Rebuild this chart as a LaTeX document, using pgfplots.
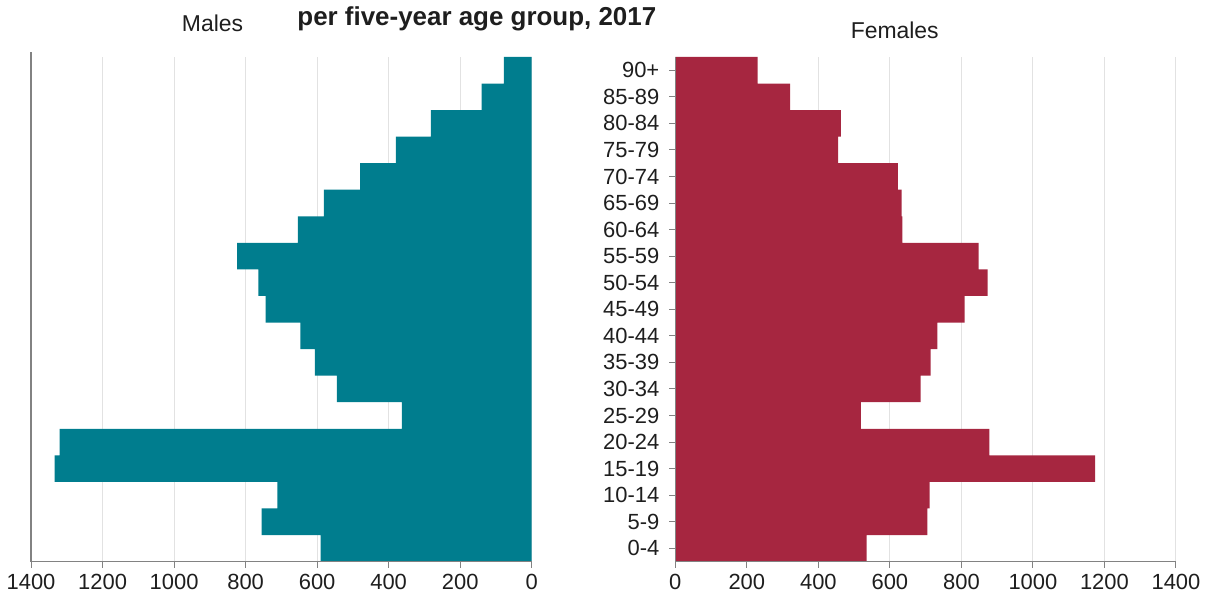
\documentclass[border=0pt]{standalone}
\usepackage{pgfplots}
\pgfplotsset{compat=1.18}
\usepackage{fontspec}
\setmainfont{Liberation Sans}
\definecolor{tealbar}{RGB}{0,125,142}
\definecolor{crimbar}{RGB}{166,38,64}
\definecolor{gridc}{RGB}{226,226,226}
\definecolor{axc}{RGB}{130,130,130}
\definecolor{txt}{RGB}{30,30,30}

\pgfplotstableread{
y males
18 78
17 140
16 282
15 380
14 480
13 581
12 654
11 824
10 764
9 744
8 647
7 606
6 545
5 363
4 1320
3 1334
2 711
1 755
0 590
}\maletab

\pgfplotstableread{
y females
18 230
17 321
16 463
15 455
14 622
13 633
12 635
11 848
10 873
9 809
8 733
7 714
6 686
5 519
4 878
3 1174
2 711
1 705
0 535
}\femaletab

\begin{document}
\begin{tikzpicture}[x=1pt,y=1pt]
\path (0,0) rectangle (603.5,298);
\pgfplotsset{
  pyr/.style={
    scale only axis,
    anchor=south west,
    width=251pt, height=253pt,
    xbar, bar width=1,
    xmin=0, xmax=1400,
    ymin=-0.5, ymax=18.5,
    xtick={0,200,...,1400},
    xmajorgrids, grid style={gridc, line width=0.5pt},
    axis line style={draw=none},
    tick align=outside,
    major tick length=3pt,
    tick style={axc, line width=0.5pt},
    xtick pos=bottom,
    font=\fontsize{11}{13}\selectfont,
    ticklabel style={font=\fontsize{11}{13}\selectfont, text=txt},
    /pgf/number format/assume math mode=true,
    /pgf/number format/1000 sep={},
    clip=false,
  }
}
\begin{axis}[pyr, at={(15.5pt,19pt)}, x dir=reverse, ytick=\empty]
\addplot[fill=tealbar, draw=none] table[x=males, y=y] {\maletab};
\draw[axc, line width=0.6pt] (axis cs:1400,-0.5) -- (axis cs:1400,18.7);
\draw[axc, line width=0.6pt] (axis cs:1400,-0.5) -- (axis cs:0,-0.5);
\end{axis}

\begin{axis}[pyr, at={(338.5pt,19pt)},
  ytick={0,...,18}, ytick pos=left,
  yticklabels={0-4,5-9,10-14,15-19,20-24,25-29,30-34,35-39,40-44,45-49,50-54,55-59,60-64,65-69,70-74,75-79,80-84,85-89,90+},
  yticklabel style={xshift=-1.5pt}]
\addplot[fill=crimbar, draw=none] table[x=females, y=y] {\femaletab};
\draw[axc, line width=0.6pt] (axis cs:0,-0.5) -- (axis cs:0,18.5);
\draw[axc, line width=0.6pt] (axis cs:0,-0.5) -- (axis cs:1400,-0.5);
\end{axis}

\node[anchor=base, text=txt, font=\fontsize{11.5}{13}\selectfont] at (106.5,285) {Males};
\node[anchor=base, text=txt, font=\fontsize{11.5}{13}\selectfont] at (448.5,281) {Females};
\node[anchor=base, text=txt, font=\bfseries\fontsize{13}{15}\selectfont] at (239,287.8) {per five-year age group, 2017};
\end{tikzpicture}
\end{document}
